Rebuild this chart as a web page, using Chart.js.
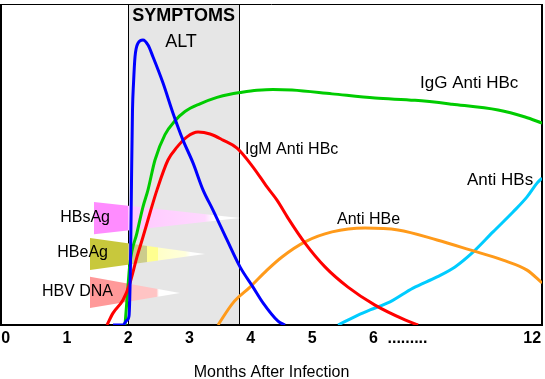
<!DOCTYPE html>
<html><head><meta charset="utf-8">
<script src="https://cdn.jsdelivr.net/npm/chart.js@4.4.0/dist/chart.umd.min.js"></script>
<style>html,body{margin:0;padding:0;background:#fff;}</style>
</head><body>
<canvas id="c" width="545" height="379"></canvas>
<script>
// ---- data (months after infection, relative level 0-100) ----
const tickValues = [0, 1, 2, 3, 4, 5, 6, 6.556, 8.59];
const tickLabels = ['0', '1', '2', '3', '4', '5', '6', '.........', '12'];

const altX = [1.752, 1.915, 1.980, 2.013, 2.038, 2.054, 2.070, 2.087, 2.111, 2.160, 2.241, 2.323, 2.405, 2.568, 2.731, 2.894, 3.057, 3.220, 3.383, 3.612, 3.824, 4.036, 4.199, 4.444, 4.558];
const altY = [0, 0, 1.5, 2.8, 20.2, 45.2, 67.0, 75.4, 83.5, 87.8, 88.8, 87.2, 83.5, 75.4, 66.0, 57.6, 50.5, 42.1, 35.8, 26.5, 18.1, 11.8, 6.9, 1.2, 0];

const iggX = [1.948, 1.980, 2.029, 2.143, 2.241, 2.323, 2.437, 2.600, 2.763, 2.926, 3.171, 3.449, 3.661, 3.824, 4.101, 4.362, 4.672, 5.325, 6.026, 6.679, 7.283, 8.034, 8.474, 8.751];
const iggY = [0, 7.8, 19.3, 28.7, 36.8, 42.1, 51.4, 59.3, 63.6, 66.5, 68.9, 70.9, 71.9, 72.4, 73.1, 73.4, 73.2, 72.0, 70.7, 70.0, 68.8, 67.0, 64.8, 62.9];

const igmX = [1.654, 1.752, 1.915, 2.029, 2.143, 2.241, 2.355, 2.470, 2.649, 2.796, 2.959, 3.139, 3.335, 3.547, 3.775, 4.036, 4.264, 4.427, 4.607, 4.884, 5.210, 5.585, 6.026, 6.515, 6.728];
const igmY = [0, 3.7, 7.8, 13.1, 21.2, 27.4, 34.9, 42.1, 51.4, 55.4, 58.6, 60.1, 59.5, 57.6, 55.1, 49.2, 43.0, 38.9, 33.3, 25.5, 18.1, 11.8, 6.2, 1.6, 0];

const antiHBeX = [3.465, 3.710, 3.987, 4.264, 4.509, 4.884, 5.325, 5.863, 6.401, 7.038, 7.576, 8.115, 8.506, 8.751];
const antiHBeY = [0, 6.9, 11.8, 17.1, 21.2, 25.9, 29.0, 30.2, 29.6, 26.5, 23.4, 20.2, 17.1, 13.1];

const antiHBsX = [5.423, 5.749, 5.944, 6.271, 6.646, 7.038, 7.331, 7.625, 7.951, 8.277, 8.506, 8.669, 8.751];
const antiHBsY = [0, 3.1, 4.7, 7.2, 11.5, 15.0, 18.1, 22.7, 29.0, 35.2, 39.9, 44.2, 45.8];

// antigen wedges: [start month, top level, bottom level, tip month, tip level]
const hbsAgWedge = [1.442, 38.3, 28.3, 3.824, 33.3];
const hbeAgWedge = [1.377, 27.1, 17.1, 3.253, 22.1];
const hbvDnaWedge = [1.377, 15.0, 5.3, 2.845, 10.0];

// symptoms window (months)
const symptomsWindow = [2.0, 3.81];

// ---- helpers ----
const pts = (xs, ys) => xs.map((x, i) => ({x, y: ys[i]}));
const FONT = "'Liberation Sans', Arial, Helvetica, sans-serif";

function gradientFor(stops) {
  return (ctx) => {
    const chart = ctx.chart;
    const xs = chart.scales.x;
    if (!xs || !chart.chartArea) return stops[0][1];
    const p0 = xs.getPixelForValue(stops[0][0]);
    const p1 = xs.getPixelForValue(stops[stops.length - 1][0]);
    const g = chart.ctx.createLinearGradient(p0, 0, p1, 0);
    stops.forEach(([v, c]) => {
      const t = (xs.getPixelForValue(v) - p0) / (p1 - p0);
      g.addColorStop(Math.min(1, Math.max(0, t)), c);
    });
    return g;
  };
}

function wedgeDatasets(w, stops) {
  const [x0, yTop, yBot, xt, yt] = w;
  const common = {borderWidth: 0, borderColor: 'rgba(0,0,0,0)', pointRadius: 0, tension: 0, cubicInterpolationMode: 'default'};
  return [
    Object.assign({data: [{x: x0, y: yTop}, {x: xt, y: yt}], fill: false}, common),
    Object.assign({data: [{x: x0, y: yBot}, {x: xt, y: yt}], fill: '-1', backgroundColor: gradientFor(stops)}, common)
  ];
}

const curve = (xs, ys, color) => ({data: pts(xs, ys), borderColor: color, borderWidth: 3, pointRadius: 0, fill: false, cubicInterpolationMode: 'monotone'});

const textLabels = [
  {t: 'SYMPTOMS', x: 2.904, y: 96.3, size: 18, bold: true, align: 'center'},
  {t: 'ALT', x: 2.861, y: 88.2, size: 18, align: 'center'},
  {t: 'IgG Anti HBc', x: 6.760, y: 75.4, size: 17, align: 'left'},
  {t: 'IgM Anti HBc', x: 3.905, y: 54.5, size: 16, align: 'left'},
  {t: 'Anti HBs', x: 7.527, y: 45.2, size: 17, align: 'left'},
  {t: 'Anti HBe', x: 5.406, y: 32.7, size: 16, align: 'left'},
  {t: 'HBsAg', x: 1.703, y: 33.6, size: 16, align: 'right'},
  {t: 'HBeAg', x: 1.670, y: 22.7, size: 16, align: 'right'},
  {t: 'HBV DNA', x: 1.752, y: 10.3, size: 16, align: 'right'}
];

const backdrop = {
  id: 'backdrop',
  beforeDatasetsDraw(chart) {
    const {ctx, chartArea: a, scales: {x}} = chart;
    const l = Math.round(x.getPixelForValue(symptomsWindow[0])) + 0.5;
    const r = Math.round(x.getPixelForValue(symptomsWindow[1])) + 0.5;
    ctx.save();
    ctx.fillStyle = '#e6e6e6';
    ctx.fillRect(l, a.top, r - l, a.bottom - a.top);
    ctx.strokeStyle = '#000';
    ctx.lineWidth = 1;
    ctx.beginPath();
    ctx.moveTo(l, a.top); ctx.lineTo(l, a.bottom);
    ctx.moveTo(r, a.top); ctx.lineTo(r, a.bottom);
    ctx.stroke();
    // frame
    ctx.beginPath();
    ctx.moveTo(a.left, a.top + 0.5); ctx.lineTo(a.right, a.top + 0.5);
    ctx.stroke();
    ctx.lineWidth = 2;
    ctx.beginPath();
    ctx.moveTo(a.left, a.top); ctx.lineTo(a.left, a.bottom + 1);
    ctx.moveTo(a.right, a.top); ctx.lineTo(a.right, a.bottom + 1);
    ctx.moveTo(a.left, a.bottom); ctx.lineTo(a.right + 1, a.bottom);
    ctx.stroke();
    ctx.restore();
  },
  afterDatasetsDraw(chart) {
    const {ctx, scales: {x, y}} = chart;
    ctx.save();
    ctx.fillStyle = '#000';
    ctx.textBaseline = 'middle';
    textLabels.forEach(l => {
      ctx.font = (l.bold ? 'bold ' : '') + l.size + 'px ' + FONT;
      ctx.textAlign = l.align;
      ctx.fillText(l.t, x.getPixelForValue(l.x), y.getPixelForValue(l.y));
    });
    ctx.restore();
  }
};

new Chart(document.getElementById('c'), {
  type: 'line',
  data: {
    datasets: [
      curve(altX, altY, '#0000ff'),
      curve(igmX, igmY, '#ff0000'),
      curve(iggX, iggY, '#00cc00'),
      curve(antiHBeX, antiHBeY, '#ff9a1a'),
      curve(antiHBsX, antiHBsY, '#00ccff'),
      ...wedgeDatasets(hbsAgWedge, [[1.442, '#ff8cff'], [2.0, '#ff8cff'], [2.002, '#ffc8ff'], [3.25, '#ffd8ff'], [3.40, '#ffffff'], [3.824, '#ffffff']]),
      ...wedgeDatasets(hbeAgWedge, [[1.377, '#c8c83c'], [2.0, '#c8c83c'], [2.002, '#cccc8c'], [2.31, '#cccc8c'], [2.312, '#ffff90'], [2.49, '#ffff90'], [2.492, '#ffffc8'], [2.93, '#ffffdc'], [3.02, '#ffffff'], [3.253, '#ffffff']]),
      ...wedgeDatasets(hbvDnaWedge, [[1.377, '#ff9999'], [2.0, '#ff9999'], [2.002, '#ffc4c4'], [2.46, '#ffc4c4'], [2.50, '#ffffff'], [2.845, '#ffffff']])
    ]
  },
  options: {
    responsive: false,
    animation: false,
    devicePixelRatio: 1,
    layout: {padding: {left: 1, top: 4, right: 3, bottom: 0}},
    plugins: {legend: {display: false}, tooltip: {enabled: false}},
    scales: {
      x: {
        type: 'linear', min: -0.075, max: 8.75,
        grid: {display: false, drawTicks: false},
        border: {display: false},
        afterBuildTicks: s => { s.ticks = tickValues.map(v => ({value: v})); },
        afterFit: s => { s.height = 54; s.paddingLeft = 0; s.paddingRight = 0; },
        ticks: {
          autoSkip: false, maxRotation: 0, padding: 4, color: '#000',
          font: {family: FONT, size: 16, weight: 'bold'},
          callback: (v, i) => tickLabels[i]
        },
        title: {display: true, text: 'Months After Infection', color: '#000', font: {family: FONT, size: 16}, padding: {top: 0, bottom: -3}}
      },
      y: {display: false, min: 0, max: 100}
    }
  },
  plugins: [backdrop]
});
</script>
</body></html>
